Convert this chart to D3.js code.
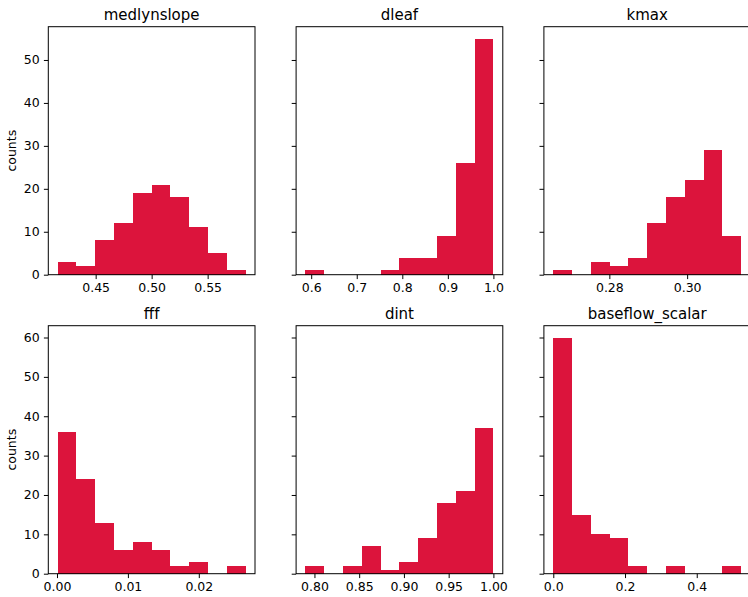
<!DOCTYPE html>
<html>
<head>
<meta charset="utf-8">
<script src="https://cdn.jsdelivr.net/npm/d3@7"></script>
<style>
  body { margin: 0; background: #fff; overflow: hidden; }
  svg { display: block; font-family: "DejaVu Sans", sans-serif; }
</style>
</head>
<body>
<div id="chart"></div>
<script>
// histogram panels, 10 bins each
var titles = ["medlynslope", "dleaf", "kmax", "fff", "dint", "baseflow_scalar"];
var binLo = [0.4161, 0.5875, 0.26559, 0.0001, 0.79, 0.0];
var binHi = [0.5839, 1.0, 0.3139, 0.0266, 1.0, 0.524];
var medlynCounts = [3, 2, 8, 12, 19, 21, 18, 11, 5, 1];
var dleafCounts = [1, 0, 0, 0, 1, 4, 4, 9, 26, 55];
var kmaxCounts = [1, 0, 3, 2, 4, 12, 18, 22, 29, 9];
var fffCounts = [36, 24, 13, 6, 8, 6, 2, 3, 0, 2];
var dintCounts = [2, 0, 2, 7, 1, 3, 9, 18, 21, 37];
var baseflowCounts = [60, 15, 10, 9, 2, 0, 2, 0, 0, 2];
var allCounts = [medlynCounts, dleafCounts, kmaxCounts, fffCounts, dintCounts, baseflowCounts];
var xTicks = [[0.45, 0.50, 0.55], [0.6, 0.7, 0.8, 0.9, 1.0], [0.28, 0.30],
              [0.00, 0.01, 0.02], [0.80, 0.85, 0.90, 0.95, 1.00], [0.0, 0.2, 0.4]];
var xFormats = [".2f", ".1f", ".2f", ".2f", ".2f", ".1f"];
var yTicksTop = [0, 10, 20, 30, 40, 50];
var yTicksBottom = [0, 10, 20, 30, 40, 50, 60];
var yLabel = "counts";

var W = 748, H = 597;
var lefts = [48.3, 296.1, 543.9];
var tops = [26.7, 325.7];
var pw = 206.7, ph = 248;
var barColor = "#dc143c";

var svg = d3.select("#chart").append("svg").attr("width", W).attr("height", H);

function drawPanel(i) {
  var row = Math.floor(i / 3), col = i % 3;
  var counts = allCounts[i];
  var lo = binLo[i], hi = binHi[i];
  var step = (hi - lo) / counts.length;
  var pad = (hi - lo) * 0.05;

  var x = d3.scaleLinear().domain([lo - pad, hi + pad]).range([0, pw]);
  // rows share y
  var rowMax = d3.max(allCounts.slice(row * 3, row * 3 + 3), function (c) { return d3.max(c); });
  var y = d3.scaleLinear().domain([0, rowMax * 1.05]).range([ph, 0]);

  var g = svg.append("g").attr("transform", "translate(" + lefts[col] + "," + tops[row] + ")");

  var bins = counts.map(function (c, k) { return { x0: lo + k * step, x1: lo + (k + 1) * step, n: c }; });
  g.selectAll("rect.bar").data(bins).enter().append("rect")
    .attr("class", "bar")
    .attr("x", function (d) { return x(d.x0); })
    .attr("width", function (d) { return x(d.x1) - x(d.x0); })
    .attr("y", function (d) { return y(d.n); })
    .attr("height", function (d) { return ph - y(d.n); })
    .attr("fill", barColor)
    .attr("shape-rendering", "crispEdges");

  var xAxis = d3.axisBottom(x).tickValues(xTicks[i]).tickFormat(d3.format(xFormats[i]))
    .tickSizeInner(4.4).tickSizeOuter(0).tickPadding(4.2);
  var gx = g.append("g").attr("transform", "translate(0," + ph + ")").call(xAxis);
  gx.select(".domain").remove();

  var yAxis = d3.axisLeft(y).tickValues(row == 0 ? yTicksTop : yTicksBottom)
    .tickSizeInner(4.4).tickSizeOuter(0).tickPadding(4.2);
  if (col > 0) yAxis.tickFormat("");
  var gy = g.append("g").call(yAxis);
  gy.select(".domain").remove();

  g.selectAll(".tick text").attr("font-size", "12.5px").attr("font-family", "DejaVu Sans, sans-serif").attr("fill", "#000");
  g.selectAll(".tick line").attr("stroke", "#000").attr("stroke-width", 1);

  g.append("rect").attr("width", pw).attr("height", ph)
    .attr("fill", "none").attr("stroke", "#000").attr("stroke-width", 1);

  g.append("text").attr("x", pw / 2).attr("y", -7)
    .attr("text-anchor", "middle").attr("font-size", "15px").attr("fill", "#000")
    .text(titles[i]);

  if (col == 0) {
    g.append("text")
      .attr("transform", "translate(" + (-32) + "," + (ph / 2) + ") rotate(-90)")
      .attr("text-anchor", "middle").attr("font-size", "12.5px").attr("fill", "#000")
      .text(yLabel);
  }
}

for (var i = 0; i < titles.length; i++) drawPanel(i);
</script>
</body>
</html>
